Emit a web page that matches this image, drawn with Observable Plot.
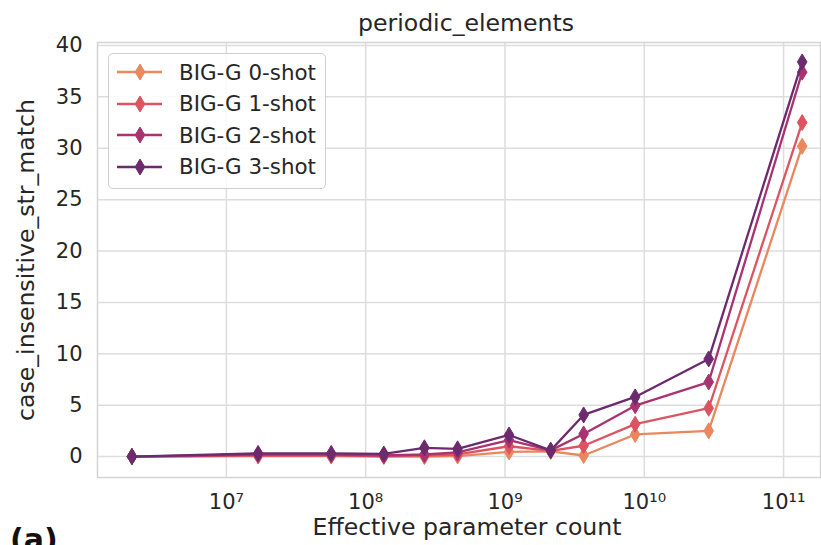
<!DOCTYPE html>
<html>
<head>
<meta charset="utf-8">
<script src="https://cdn.jsdelivr.net/npm/d3@7"></script>
<script src="https://cdn.jsdelivr.net/npm/@observablehq/plot@0.6"></script>
<style>
  html, body { margin: 0; padding: 0; background: #fff; }
  #wrap { position: relative; width: 821px; height: 545px; overflow: hidden; font-family: "DejaVu Sans", sans-serif; color: #262626; }
  #title { position: absolute; left: 0; width: 932px; top: 9px; text-align: center; font-size: 23.6px; }
  #xlabel { position: absolute; left: 0; width: 934px; top: 513px; text-align: center; font-size: 23.6px; line-height: normal; white-space: nowrap; }
  #legend { position: absolute; left: 108px; top: 53px; width: 216px; height: 134px; border: 1px solid #cfcfcf; border-radius: 5px; background: rgba(255,255,255,0.85); }
  .row { position: absolute; left: 0; height: 32px; display: flex; align-items: center; }
  .row span { position: absolute; left: 70px; font-size: 21.4px; white-space: nowrap; }
  #tag { position: absolute; left: 10px; top: 522px; font-size: 30px; font-weight: bold; color: #111; }
</style>
</head>
<body>
<div id="wrap">
  <div id="chart"></div>
  <div id="title">periodic_elements</div>
  <div id="xlabel">Effective parameter count</div>
  <div id="legend"></div>
  <div id="tag">(a)</div>
</div>
<script>
// ---- data ----
const params = [2.1e6, 1.69e7, 5.66e7, 1.35e8, 2.64e8, 4.57e8, 1.07e9, 2.13e9, 3.67e9, 8.6e9, 2.9e10, 1.36e11];
const shot0 = [0, 0.05, 0.05, 0.0, 0.0, 0.05, 0.45, 0.5, 0.1, 2.15, 2.5, 30.2];
const shot1 = [0, 0.1, 0.1, 0.05, 0.1, 0.2, 1.0, 0.55, 1.05, 3.15, 4.7, 32.5];
const shot2 = [0, 0.2, 0.2, 0.1, 0.2, 0.4, 1.6, 0.6, 2.2, 4.95, 7.25, 37.4];
const shot3 = [0, 0.3, 0.3, 0.25, 0.85, 0.75, 2.1, 0.6, 4.05, 5.8, 9.5, 38.4];
const seriesNames = ["BIG-G 0-shot", "BIG-G 1-shot", "BIG-G 2-shot", "BIG-G 3-shot"];
const seriesColors = ["#e9875e", "#dc5462", "#a8336f", "#6d2a6f"];
const yTicks = [0, 5, 10, 15, 20, 25, 30, 35, 40];
const xTicks = [1e7, 1e8, 1e9, 1e10, 1e11];

const allSeries = [shot0, shot1, shot2, shot3];
const rows = allSeries.map((vals, i) => params.map((p, j) => ({x: p, y: vals[j], s: seriesNames[i]})));

const sup = {"0":"⁰","1":"¹","2":"²","3":"³","4":"⁴","5":"⁵","6":"⁶","7":"⁷","8":"⁸","9":"⁹"};
const fmtPow = d => "10" + String(Math.round(Math.log10(d))).split("").map(c => sup[c]).join("");

const thinDiamond = {
  draw(ctx, size) {
    const r = Math.sqrt(size / Math.PI);
    ctx.moveTo(0, -r);
    ctx.lineTo(0.6 * r, 0);
    ctx.lineTo(0, r);
    ctx.lineTo(-0.6 * r, 0);
    ctx.closePath();
  }
};

const marks = [
  Plot.gridX(xTicks, {stroke: "#dddddd", strokeOpacity: 1, strokeWidth: 1.5}),
  Plot.gridY(yTicks, {stroke: "#dddddd", strokeOpacity: 1, strokeWidth: 1.5}),
  Plot.frame({stroke: "#d4d4d4", strokeWidth: 1.5})
];
rows.forEach((data, i) => {
  marks.push(Plot.line(data, {x: "x", y: "y", stroke: seriesColors[i], strokeWidth: 2.3}));
  marks.push(Plot.dot(data, {x: "x", y: "y", fill: seriesColors[i], stroke: seriesColors[i], strokeWidth: 1, symbol: thinDiamond, r: 8}));
});
marks.push(Plot.axisX(xTicks, {tickSize: 0, tickPadding: 17, tickFormat: fmtPow, fontSize: 21, fill: "#262626",
  label: null}));
marks.push(Plot.axisY(yTicks, {tickSize: 0, tickPadding: 15, fontSize: 21, fill: "#262626",
  label: null}));
marks.push(Plot.axisY({label: "case_insensitive_str_match", labelAnchor: "center", labelOffset: 80, labelArrow: "none",
  ticks: [], tickSize: 0, fontSize: 23.6, fill: "#262626"}));

const chart = Plot.plot({
  width: 821,
  height: 545,
  marginLeft: 97,
  marginRight: 1,
  marginTop: 42,
  marginBottom: 68,
  style: {fontFamily: "DejaVu Sans, sans-serif", fontSize: "21px", color: "#262626", background: "white", overflow: "visible"},
  x: {type: "log", domain: [Math.pow(10, 6.075), Math.pow(10, 11.265)]},
  y: {domain: [-2.04, 40.29]},
  marks
});
document.getElementById("chart").appendChild(chart);

// legend
const leg = document.getElementById("legend");
seriesNames.forEach((name, i) => {
  const row = document.createElement("div");
  row.className = "row";
  row.style.top = (2 + i * 31.5) + "px";
  row.style.width = "214px";
  row.innerHTML = `<svg width="60" height="32" style="position:absolute;left:0;top:0">
    <line x1="8" x2="53" y1="16" y2="16" stroke="${seriesColors[i]}" stroke-width="2.3"/>
    <path d="M31,8 L35.8,16 L31,24 L26.2,16 Z" fill="${seriesColors[i]}" stroke="${seriesColors[i]}"/>
  </svg><span>${name}</span>`;
  leg.appendChild(row);
});
</script>
</body>
</html>
